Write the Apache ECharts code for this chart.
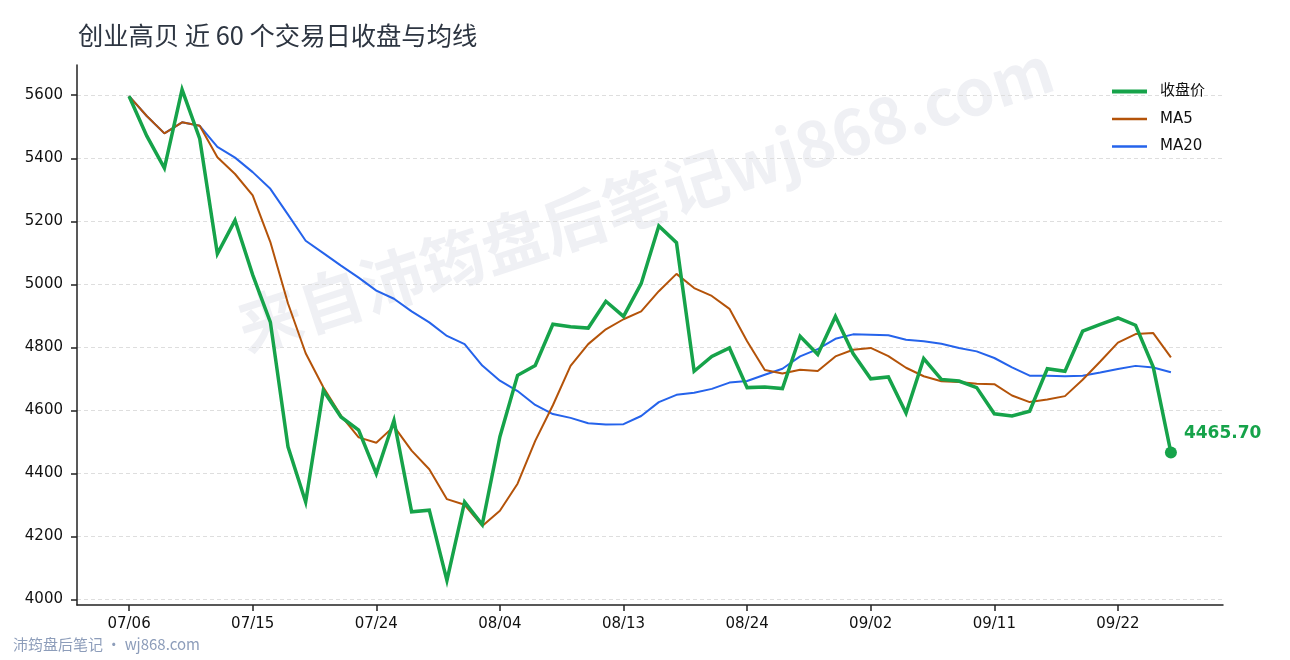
<!DOCTYPE html>
<html>
<head>
<meta charset="utf-8">
<title>创业高贝 近 60 个交易日收盘与均线</title>
<script src="https://cdn.jsdelivr.net/npm/echarts@6/dist/echarts.min.js"></script>
<style>
  html, body { margin: 0; padding: 0; background: #fff; }
  #chart { width: 1290px; height: 660px; }
</style>
</head>
<body>
<div id="chart"></div>
<script>
// 交易日
const DATES = [
  '07/06', '07/07', '07/08', '07/09', '07/10',
  '07/13', '07/14', '07/15', '07/16', '07/17',
  '07/20', '07/21', '07/22', '07/23', '07/24',
  '07/27', '07/28', '07/29', '07/30', '07/31',
  '08/03', '08/04', '08/05', '08/06', '08/07',
  '08/10', '08/11', '08/12', '08/13', '08/14',
  '08/17', '08/18', '08/19', '08/20', '08/21',
  '08/24', '08/25', '08/26', '08/27', '08/28',
  '08/31', '09/01', '09/02', '09/03', '09/04',
  '09/07', '09/08', '09/09', '09/10', '09/11',
  '09/14', '09/15', '09/16', '09/17', '09/18',
  '09/21', '09/22', '09/23', '09/24', '09/25'
];

// 收盘价
const CLOSE = [
  5597, 5471, 5369, 5618, 5462, 5097, 5203, 5030, 4880, 4484,
  4309, 4663, 4579, 4537, 4399, 4568, 4278, 4283, 4060, 4309,
  4237, 4516, 4711, 4742, 4873, 4865, 4861, 4946, 4898, 5002,
  5185, 5132, 4724, 4771, 4798, 4672, 4674, 4669, 4835, 4777,
  4898, 4780, 4700, 4706, 4591, 4764, 4698, 4693, 4672, 4589,
  4582, 4597, 4732, 4724, 4851, 4873, 4893, 4870, 4737, 4465.70
];

// MA5
const MA5 = [
  5597, 5534, 5479, 5514, 5503, 5403, 5350, 5282, 5134, 4939,
  4781, 4673, 4583, 4514, 4497, 4549, 4472, 4413, 4318, 4300,
  4233, 4281, 4367, 4503, 4616, 4741, 4810, 4857, 4889, 4914,
  4978, 5033, 4988, 4963, 4922, 4819, 4728, 4717, 4729, 4725,
  4771, 4792, 4798, 4772, 4735, 4708, 4692, 4690, 4684, 4683,
  4647, 4626, 4634, 4645, 4697, 4755, 4815, 4842, 4845, 4768
];

// MA20
const MA20 = [
  5597, 5534, 5479, 5514, 5503, 5436, 5402, 5356, 5303, 5221,
  5138, 5099, 5059, 5021, 4980, 4954, 4914, 4879, 4836, 4810,
  4742, 4694, 4661, 4617, 4588, 4576, 4559, 4555, 4556, 4582,
  4626, 4649, 4656, 4668, 4688, 4693, 4713, 4732, 4771, 4794,
  4827, 4841, 4840, 4838, 4824, 4819, 4811, 4798, 4787, 4766,
  4736, 4710, 4710, 4708, 4710, 4720, 4731, 4741, 4736, 4721
];

// 刻度
const X_TICKS = [0, 7, 14, 21, 28, 35, 42, 49, 56];
const Y_TICKS = [4000, 4200, 4400, 4600, 4800, 5000, 5200, 5400, 5600];

const GREEN = '#16a34a';
const ORANGE = '#b45309';
const BLUE = '#2563eb';
const AXIS = '#222222';
const NUM_FONT = 'DejaVu Sans, Noto Sans CJK SC, sans-serif';

function pairs(arr) {
  return arr.map(function (v, i) { return [i, v]; });
}

const last = CLOSE.length - 1;

const chart = echarts.init(document.getElementById('chart'), null, { renderer: 'canvas' });

const option = {
  backgroundColor: '#ffffff',
  animation: false,
  title: {
    text: '创业高贝 近 60 个交易日收盘与均线',
    left: 73,
    top: 18,
    textStyle: {
      fontFamily: 'Noto Sans CJK SC, sans-serif',
      fontSize: 25.3,
      fontWeight: 'normal',
      color: '#2d3541'
    }
  },
  grid: {
    left: 77,
    right: 67,
    top: 65,
    bottom: 55,
    containLabel: false
  },
  legend: {
    orient: 'vertical',
    left: 1105,
    top: 79,
    itemWidth: 35,
    itemHeight: 14,
    itemGap: 12.5,
    data: [
      { name: '收盘价', lineStyle: { width: 4 } },
      { name: 'MA5', lineStyle: { width: 2.5 } },
      { name: 'MA20', lineStyle: { width: 2.5 } }
    ],
    itemStyle: { opacity: 0 },
    textStyle: {
      fontFamily: NUM_FONT,
      fontSize: 15,
      color: '#111',
      padding: [0, 0, 0, 8]
    }
  },
  xAxis: {
    type: 'value',
    min: -2.95,
    max: 61.95,
    axisLine: { show: true, onZero: false, lineStyle: { color: AXIS, width: 1.5 } },
    axisTick: {
      show: true,
      length: 6,
      customValues: X_TICKS,
      lineStyle: { color: AXIS, width: 1.5 }
    },
    axisLabel: {
      customValues: X_TICKS,
      margin: 12,
      fontFamily: NUM_FONT,
      fontSize: 15,
      color: '#111',
      formatter: function (v) { return DATES[Math.round(v)] || ''; }
    },
    splitLine: { show: false }
  },
  yAxis: {
    type: 'value',
    min: 3982,
    max: 5696,
    axisLine: { show: true, onZero: false, lineStyle: { color: AXIS, width: 1.5 } },
    axisTick: {
      show: true,
      length: 6,
      customValues: Y_TICKS,
      lineStyle: { color: AXIS, width: 1.5 }
    },
    axisLabel: {
      customValues: Y_TICKS,
      margin: 14,
      fontFamily: NUM_FONT,
      fontSize: 15,
      color: '#111',
      formatter: function (v) { return String(v); }
    },
    splitLine: {
      show: true,
      lineStyle: { color: '#dedede', width: 1, type: [4, 3] }
    }
  },
  graphic: [
    {
      type: 'text',
      x: 645,
      y: 198,
      rotation: 18 * Math.PI / 180,
      z: -10,
      silent: true,
      style: {
        text: '来自沛筠盘后笔记wj868.com',
        fontFamily: 'Noto Sans CJK SC, sans-serif',
        fontSize: 64,
        fontWeight: 'bold',
        fill: 'rgba(40,55,110,0.075)',
        textAlign: 'center',
        textVerticalAlign: 'middle'
      }
    },
    {
      type: 'text',
      left: 13,
      top: 637,
      silent: true,
      style: {
        text: '沛筠盘后笔记 · wj868.com',
        fontFamily: 'Noto Sans CJK SC, sans-serif',
        fontSize: 15,
        fill: '#8d9dba'
      }
    }
  ],
  series: [
    {
      name: '收盘价',
      type: 'line',
      data: pairs(CLOSE),
      showSymbol: false,
      symbol: 'none',
      z: 4,
      lineStyle: { color: GREEN, width: 3.5, join: 'miter' },
      itemStyle: { color: GREEN }
    },
    {
      name: 'MA5',
      type: 'line',
      data: pairs(MA5),
      showSymbol: false,
      symbol: 'none',
      z: 3,
      lineStyle: { color: ORANGE, width: 2 },
      itemStyle: { color: ORANGE }
    },
    {
      name: 'MA20',
      type: 'line',
      data: pairs(MA20),
      showSymbol: false,
      symbol: 'none',
      z: 2,
      lineStyle: { color: BLUE, width: 2 },
      itemStyle: { color: BLUE }
    },
    {
      name: 'last',
      type: 'scatter',
      data: [[last, CLOSE[last]]],
      symbol: 'circle',
      symbolSize: 12,
      z: 5,
      itemStyle: { color: GREEN, opacity: 1 },
      label: {
        show: true,
        position: 'right',
        offset: [2, -19],
        formatter: function () { return CLOSE[last].toFixed(2); },
        fontFamily: NUM_FONT,
        fontSize: 17,
        fontWeight: 'bold',
        color: GREEN
      }
    }
  ]
};

chart.setOption(option);
</script>
</body>
</html>
